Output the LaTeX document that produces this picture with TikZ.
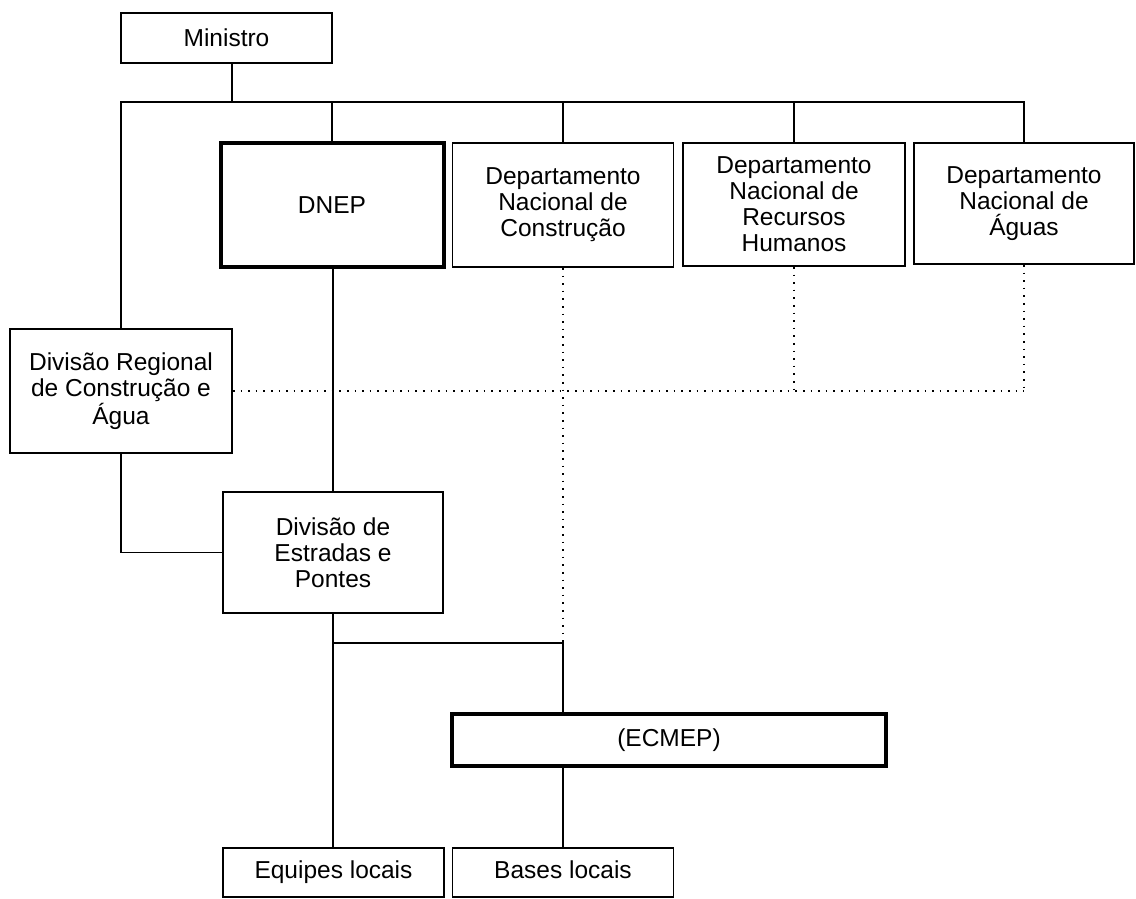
\documentclass[tikz,border=0pt]{standalone}
\usepackage{fontspec}
\setmainfont{Liberation Sans}

\tikzset{
  orgbox/.style={draw, line width=1.8pt, align=center, inner sep=0pt,
    font=\fontsize{24.5}{26}\selectfont},
  mainbox/.style={orgbox, line width=4pt},
  leafbox/.style={orgbox, text height=17.5, text depth=5.5},
  link/.style={line width=1.8pt},
  staff/.style={line width=1.9pt, dash pattern=on 1.6pt off 6pt},
}

\begin{document}
\begin{tikzpicture}[x=1pt,y=1pt,yscale=-1,xscale=1]
\useasboundingbox (0,0) rectangle (1136,898);

%Boxes: top level
\node[orgbox, minimum width=211, minimum height=50] (ministro) at (226.5,38) {Ministro};
\node[mainbox, minimum width=223, minimum height=124] (dnep) at (332,205) {DNEP};
\node[orgbox, minimum width=221, minimum height=124] (dnc) at (563,205) {Departamento\\Nacional de\\Construção};
\node[orgbox, minimum width=222, minimum height=123] (dnrh) at (794,204.5) {Departamento\\Nacional de\\Recursos\\Humanos};
\node[orgbox, minimum width=220, minimum height=121] (dna) at (1024,203.5) {Departamento\\Nacional de\\Águas};

%Boxes: divisions
\node[orgbox, minimum width=222, minimum height=124] (regional) at (121,391) {Divisão Regional\\de Construção e\\Água};
\node[orgbox, minimum width=220, minimum height=121] (estradas) at (333,552.5) {Divisão de\\Estradas e\\Pontes};
\node[mainbox, minimum width=434, minimum height=52] (ecmep) at (669,740) {(ECMEP)};
\node[leafbox, minimum width=221, minimum height=49] (equipes) at (333.5,872.5) {Equipes locais};
\node[leafbox, minimum width=221, minimum height=49] (bases) at (563,872.5) {Bases locais};

%Bus below Ministro
\coordinate (busL) at (121,102);
\coordinate (busR) at (1024,102);
\coordinate (junc) at (563,643);

\draw[link] ([xshift=5.5]ministro.south) -- ([xshift=5.5]ministro.south |- busL);
\draw[link] (regional.north) -- (busL) -- (busR) -- (dna.north);
\foreach \n in {dnep, dnc, dnrh}
  \draw[link] (\n.north) -- (\n.north |- busL);

%Staff links (dotted)
\draw[staff] (regional.east) -- (regional.east -| dna.south);
\draw[staff] (dna.south) -- (dna.south |- regional.east);
\draw[staff] (dnrh.south) -- (dnrh.south |- regional.east);
\draw[staff] (dnc.south) -- (junc);

%Line links (solid)
\draw[link] (estradas.north |- dnep.south) -- (estradas.north);
\draw[link] (regional.south) |- (estradas.west);
\draw[link] (estradas.south) -- (estradas.south |- equipes.north);
\draw[link] (estradas.south |- junc) -- (junc) -- (junc |- ecmep.north);
\draw[link] (bases.north |- ecmep.south) -- (bases.north);

\end{tikzpicture}
\end{document}
